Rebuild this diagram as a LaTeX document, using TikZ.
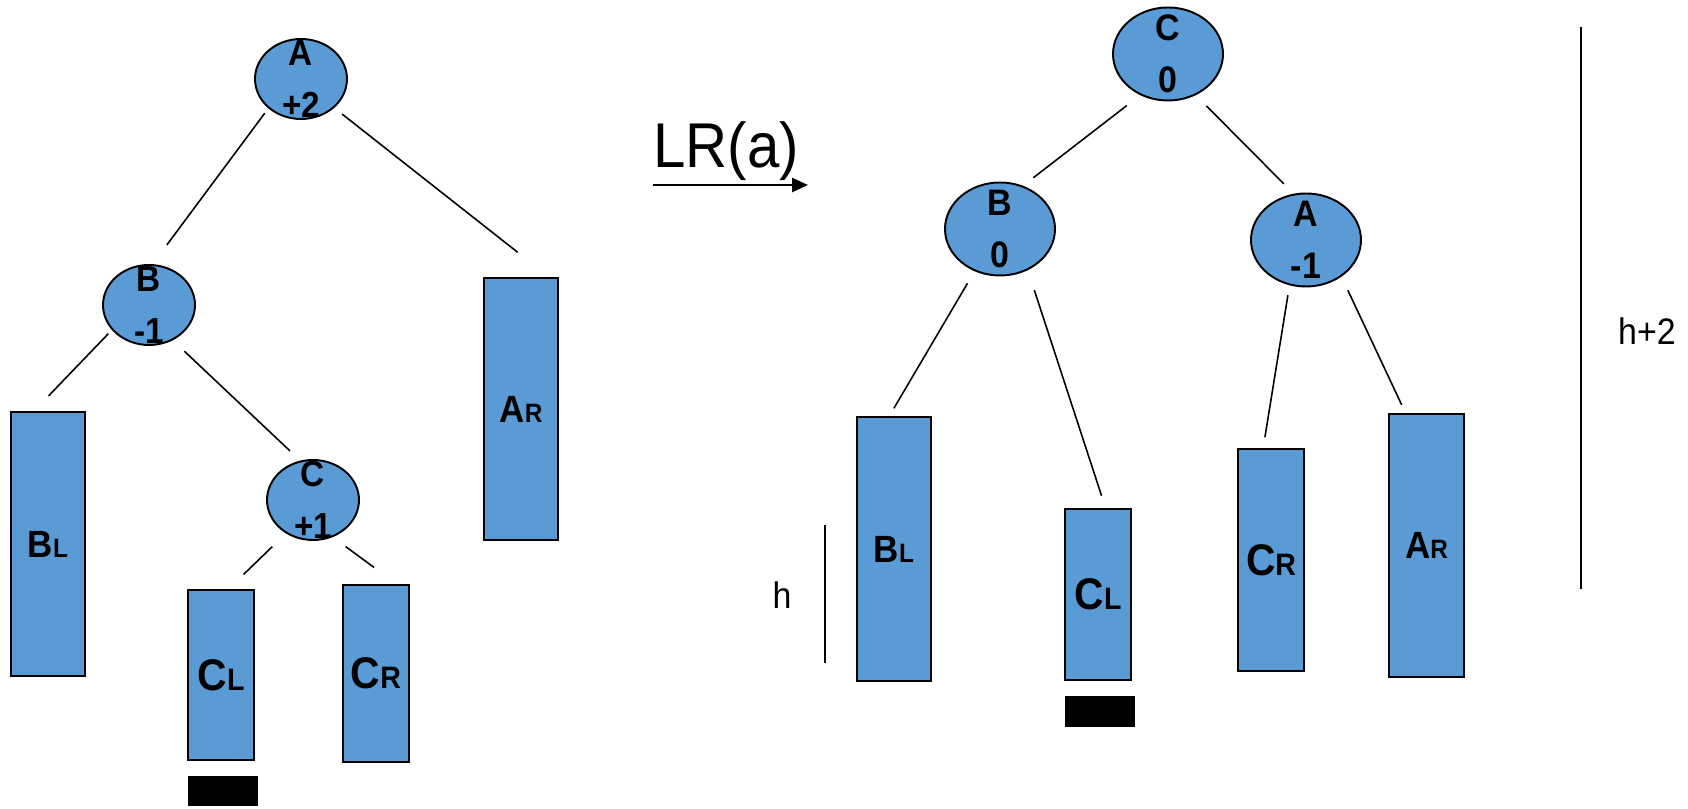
\documentclass[tikz,border=0pt]{standalone}
\usepackage{fontspec}
\setmainfont{Liberation Sans}[FakeStretch=0.92]
\usepackage{graphicx}
\usetikzlibrary{shapes.geometric, arrows.meta}

\definecolor{nodeblue}{HTML}{5B9BD5}
% small letter sitting on the baseline, as in B_L
\newcommand{\tsub}[1]{\scalebox{0.7}{#1}}

\tikzset{
    treenode/.style={draw, ellipse, fill=nodeblue, line width=0.55pt, inner sep=0pt},
    bal/.style={align=center, inner sep=0pt, font=\bfseries\fontsize{#1}{14.8}\selectfont},
    bal/.default=10.3,
    subtree/.style={draw, rectangle, fill=nodeblue, line width=0.55pt, inner sep=0pt,
        font=\bfseries\fontsize{#1}{#1}\selectfont},
    subtree/.default=10.8,
    hole/.style={rectangle, fill=black, inner sep=0pt, minimum width=7mm, minimum height=3mm},
    edge/.style={line width=0.45pt},
    note/.style={font=\fontsize{10.5}{12}\selectfont, inner sep=0pt}
}

\begin{document}
\begin{tikzpicture}
    \useasboundingbox (0,0) rectangle (16.88,8.09);

    % before the rotation
    \node (lA) [treenode, minimum width=9.2mm, minimum height=8.0mm] at (3.01,7.30) {};
    \node (lB) [treenode, minimum width=9.2mm, minimum height=8.0mm] at (1.49,5.04) {};
    \node (lC) [treenode, minimum width=9.2mm, minimum height=8.0mm] at (3.13,3.09) {};
    \node (lAval) [bal] at (lA) {A\\+2};
    \node (lBval) [bal] at (lB) {B\\-1};
    \node (lCval) [bal] at (lC) {C\\+1};

    \node (lAR) [subtree, minimum width=7.4mm, minimum height=26.2mm] at (5.21,4.00) {A\tsub{R}};
    \node (lBL) [subtree, minimum width=7.4mm, minimum height=26.4mm] at (0.48,2.65) {B\tsub{L}};
    \node (lCL) [subtree=12.6, minimum width=6.6mm, minimum height=17.0mm] at (2.21,1.34) {C\tsub{L}};
    \node (lCR) [subtree=12.6, minimum width=6.6mm, minimum height=17.7mm] at (3.76,1.355) {C\tsub{R}};
    \node (lhole) [hole] at (2.23,0.18) {};

    \draw[edge, shorten <=0.6mm, shorten >=2.4mm] (lA.222) -- (lB.85);
    \draw[edge, shorten <=1mm, shorten >=4mm] (lA.319) -- (lAR.78);
    \draw[edge, shorten <=0.5mm, shorten >=2.1mm] (lB.214) -- (lBL.96);
    \draw[edge, shorten <=1.6mm, shorten >=1.4mm] (lB.304) -- (lC.108);
    \draw[edge, shorten <=1.9mm, shorten >=2.1mm] (lC.231) -- (lCL.85);
    \draw[edge, shorten <=1.6mm, shorten >=2.8mm] (lC.298) -- (lCR.77);

    % the rotation step
    \node (rot) [font=\fontsize{18}{22}\selectfont, anchor=base, inner sep=0pt] at (7.26,6.41) {LR(a)};
    \coordinate (rotfrom) at (6.53,6.24);
    \coordinate (rotto) at (8.08,6.24);
    \draw[line width=0.75pt, -{Triangle[length=1.6mm, width=1.4mm]}] (rotfrom) -- (rotto);

    % after the rotation
    \node (rC) [treenode, minimum width=11mm, minimum height=9.3mm] at (11.68,7.55) {};
    \node (rB) [treenode, minimum width=11mm, minimum height=9.3mm] at (10.00,5.80) {};
    \node (rA) [treenode, minimum width=11mm, minimum height=9.3mm] at (13.06,5.69) {};
    \node (rCval) [bal=10.5] at (rC) {C\\0};
    \node (rBval) [bal=10.5] at (rB) {B\\0};
    \node (rAval) [bal=10.5] at (rA) {A\\-1};

    \node (rBL) [subtree, minimum width=7.4mm, minimum height=26.4mm] at (8.94,2.60) {B\tsub{L}};
    \node (rCL) [subtree=12.6, minimum width=6.6mm, minimum height=17.1mm] at (10.98,2.145) {C\tsub{L}};
    \node (rCR) [subtree=12.6, minimum width=6.6mm, minimum height=22.2mm] at (12.71,2.49) {C\tsub{R}};
    \node (rAR) [subtree, minimum width=7.5mm, minimum height=26.3mm] at (14.265,2.635) {A\tsub{R}};
    \node (rhole) [hole, minimum height=3.1mm] at (11.00,0.975) {};

    \draw[edge, shorten <=1.7mm, shorten >=1.3mm] (rC.236) -- (rB.62);
    \draw[edge, shorten <=1.5mm, shorten >=1.4mm] (rC.304) -- (rA.105);
    \draw[edge, shorten <=1.4mm, shorten >=0.9mm] (rB.239) -- (rBL.92);
    \draw[edge, shorten <=2.1mm, shorten >=1.3mm] (rB.304) -- (rCL.85);
    \draw[edge, shorten <=1mm, shorten >=1.1mm] (rA.250) -- (rCR.94);
    \draw[edge, shorten <=1.5mm, shorten >=0.9mm] (rA.314) -- (rAR.99);

    % heights
    \coordinate (htop) at (8.25,2.84);
    \coordinate (hbot) at (8.25,1.46);
    \draw[edge] (htop) -- (hbot);
    \node (hlabel) [note] at (7.82,2.14) {h};

    \coordinate (h2top) at (15.81,7.82);
    \coordinate (h2bot) at (15.81,2.20);
    \draw[edge] (h2top) -- (h2bot);
    \node (h2label) [note] at (16.47,4.78) {h+2};
\end{tikzpicture}
\end{document}
